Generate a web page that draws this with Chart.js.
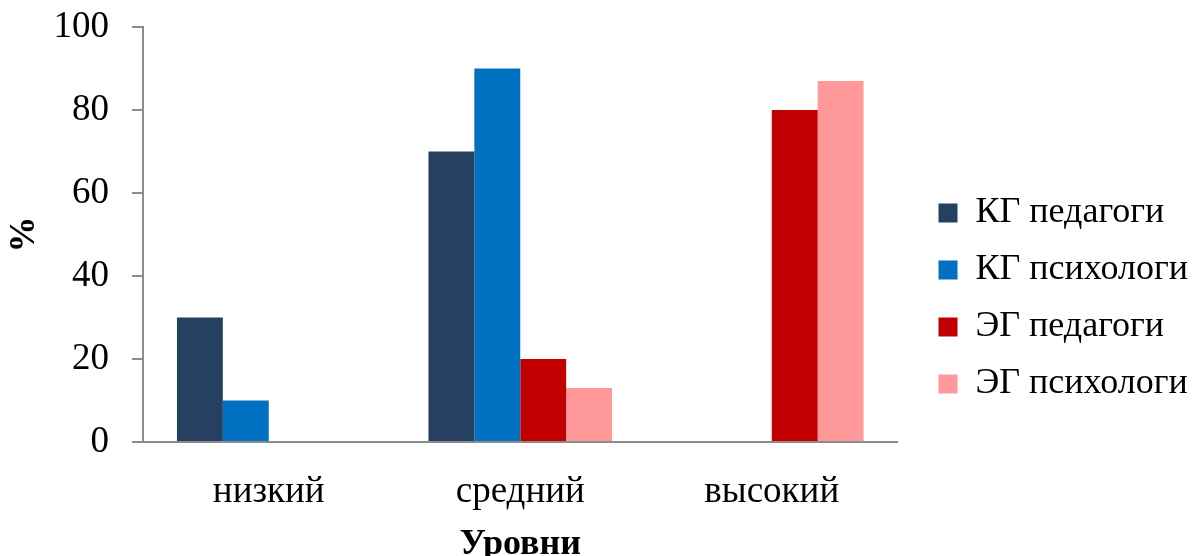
<!DOCTYPE html>
<html>
<head>
<meta charset="utf-8">
<script src="https://cdn.jsdelivr.net/npm/chart.js@4.4.1/dist/chart.umd.min.js"></script>
<style>
    html, body { margin: 0; padding: 0; background: #fff; }
    .chart-container { position: relative; width: 1194px; height: 556px; }
</style>
</head>
<body>
<div class="chart-container">
    <canvas id="levelsChart"></canvas>
</div>
<script>
const categories = ['низкий', 'средний', 'высокий'];
const seriesNames = ['КГ педагоги', 'КГ психологи', 'ЭГ педагоги', 'ЭГ психологи'];
const kgTeachers = [30, 70, 0];
const kgPsychologists = [10, 90, 0];
const egTeachers = [0, 20, 80];
const egPsychologists = [0, 13, 87];
const yTicks = [0, 20, 40, 60, 80, 100];

const colors = ['#254061', '#0070C0', '#C00000', '#FF9999'];
const axisColor = '#8c8c8c';
const font = 'Liberation Serif';

const values = [kgTeachers, kgPsychologists, egTeachers, egPsychologists];

const datasets = seriesNames.map((name, i) => ({
    label: name,
    data: values[i],
    backgroundColor: colors[i],
    borderWidth: 0,
    categoryPercentage: 0.73,
    barPercentage: 1.0
}));

// nudge the legend a little right and down, away from the plot
const legendOffset = {
    id: 'legendOffset',
    afterLayout(chart) {
        const legend = chart.legend;
        legend.left += 20;
        legend.right += 20;
        legend.top += 7;
        legend.bottom += 7;
    }
};

const ctx = document.getElementById('levelsChart').getContext('2d');

new Chart(ctx, {
    type: 'bar',
    data: {
        labels: categories,
        datasets: datasets
    },
    plugins: [legendOffset],
    options: {
        responsive: true,
        maintainAspectRatio: false,
        animation: false,
        layout: {
            padding: { top: 27, right: 16, bottom: 0, left: 0 }
        },
        plugins: {
            tooltip: { enabled: false },
            legend: {
                position: 'right',
                labels: {
                    color: '#000',
                    font: { family: font, size: 36 },
                    boxWidth: 19,
                    boxHeight: 19,
                    padding: 21
                }
            }
        },
        scales: {
            x: {
                afterFit: axis => {
                    axis.height = 114;
                    axis.paddingLeft = 0;
                    axis.paddingRight = 0;
                },
                grid: { display: false },
                border: { color: axisColor, width: 2 },
                ticks: {
                    color: '#000',
                    font: { family: font, size: 37 },
                    padding: 20
                },
                title: {
                    display: true,
                    text: 'Уровни',
                    color: '#000',
                    font: { family: font, size: 36, weight: 'bold' },
                    padding: { top: 0, bottom: -10 }
                }
            },
            y: {
                min: 0,
                max: 100,
                afterBuildTicks: axis => {
                    axis.ticks = yTicks.map(v => ({ value: v }));
                },
                afterFit: axis => {
                    axis.width = 143;
                    axis.paddingTop = 0;
                    axis.paddingBottom = 0;
                },
                grid: {
                    drawOnChartArea: false,
                    drawTicks: true,
                    tickLength: 11,
                    color: axisColor,
                    lineWidth: 2
                },
                border: { color: axisColor, width: 2 },
                ticks: {
                    color: '#000',
                    font: { family: font, size: 37 },
                    padding: 23
                },
                title: {
                    display: true,
                    text: '%',
                    color: '#000',
                    font: { family: font, size: 36, weight: 'bold' },
                    padding: { top: 3, bottom: 0 }
                }
            }
        }
    }
});
</script>
</body>
</html>
